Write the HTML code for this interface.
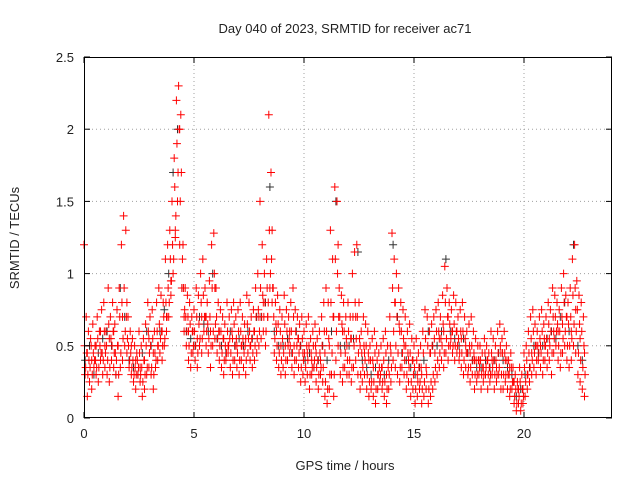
<!DOCTYPE html>
<html><head><meta charset="utf-8"><style>
body{margin:0;background:#fff}
svg text{font-family:"Liberation Sans",sans-serif;font-size:13px;fill:#222}
</style></head><body>
<svg id="chart" width="640" height="480">
<rect width="640" height="480" fill="#fff"/>
<g id="grid"></g><g id="marks"></g><g id="axes"></g>
<text x="345" y="33" text-anchor="middle">Day 040 of 2023, SRMTID for receiver ac71</text>
<text x="345" y="470" text-anchor="middle">GPS time / hours</text>
<text transform="translate(19,238) rotate(-90)" text-anchor="middle">SRMTID / TECUs</text>
</svg>
<script>
const xTicks=[0,5,10,15,20];
const yTicks=[0,0.5,1,1.5,2,2.5];
const yTickLabels=["0","0.5","1","1.5","2","2.5"];
const redHi=[1.2,0.7,0.6,0.55,0.65,0.5,0.7,0.6,0.75,0.8,
0.6,0.9,0.7,0.8,0.65,0.75,0.9,1.2,1.4,1.3,
0.7,0.6,0.55,0.5,0.45,0.6,0.5,0.55,0.65,0.8,
0.7,0.75,0.6,0.8,0.9,0.85,0.8,1.1,1.2,1.3,
1.5,1.8,2.2,2.3,2.1,1.2,0.9,0.85,0.8,0.7,
0.75,0.9,0.85,1.0,1.1,0.9,0.8,0.95,1.2,1.28,
0.9,0.8,0.75,0.7,0.65,0.8,0.7,0.75,0.8,0.7,
0.75,0.8,0.7,0.65,0.85,0.8,0.7,0.75,0.9,1.0,
1.5,1.2,1.0,1.1,2.1,1.7,0.9,0.8,0.85,0.75,
0.7,0.85,0.75,0.7,0.8,0.9,0.75,0.7,0.65,0.7,
0.6,0.65,0.7,0.55,0.6,0.65,0.55,0.6,0.7,0.8,
0.9,0.8,1.3,1.1,1.6,1.5,0.9,0.85,0.8,0.7,
0.8,0.7,1.0,1.15,1.2,0.8,0.6,0.7,0.65,0.6,
0.5,0.55,0.6,0.5,0.45,0.5,0.55,0.6,0.5,0.7,
1.28,1.1,1.0,0.9,0.8,0.75,0.7,0.6,0.65,0.55,
0.5,0.55,0.45,0.5,0.6,0.75,0.7,0.6,0.65,0.7,
0.75,0.8,0.7,0.85,1.05,0.9,0.8,0.75,0.85,0.8,
0.7,0.75,0.8,0.7,0.6,0.65,0.7,0.6,0.55,0.5,
0.5,0.45,0.55,0.5,0.45,0.6,0.55,0.5,0.6,0.65,
0.55,0.6,0.5,0.4,0.45,0.35,0.3,0.25,0.35,0.3,
0.45,0.5,0.6,0.7,0.75,0.65,0.6,0.7,0.75,0.65,
0.7,0.8,0.75,0.9,0.85,0.8,0.75,0.9,1.0,0.85,
0.8,0.9,1.1,1.2,0.95,0.85,0.8,0.7];
const redLo=[0.3,0.15,0.25,0.2,0.35,0.3,0.25,0.4,0.3,0.35,
0.3,0.25,0.4,0.35,0.3,0.15,0.35,0.4,0.5,0.45,
0.35,0.3,0.25,0.2,0.3,0.25,0.15,0.2,0.3,0.35,
0.3,0.2,0.35,0.4,0.45,0.4,0.5,0.6,0.7,0.85,
1.0,1.3,1.5,1.2,0.9,0.6,0.5,0.4,0.35,0.45,
0.4,0.35,0.5,0.45,0.6,0.5,0.45,0.35,0.5,0.55,
0.45,0.4,0.35,0.3,0.4,0.45,0.35,0.3,0.4,0.35,
0.3,0.4,0.35,0.3,0.45,0.4,0.35,0.4,0.45,0.5,
0.55,0.6,0.5,0.7,0.9,0.8,0.45,0.4,0.35,0.3,
0.35,0.3,0.4,0.45,0.35,0.3,0.4,0.35,0.25,0.3,
0.25,0.3,0.2,0.3,0.35,0.25,0.2,0.3,0.25,0.15,
0.1,0.2,0.3,0.15,0.4,0.5,0.3,0.25,0.35,0.3,
0.3,0.25,0.35,0.4,0.3,0.2,0.25,0.3,0.2,0.15,
0.2,0.15,0.1,0.2,0.25,0.2,0.15,0.1,0.2,0.25,
0.4,0.35,0.3,0.25,0.35,0.3,0.2,0.25,0.15,0.2,
0.1,0.15,0.2,0.1,0.15,0.2,0.1,0.15,0.2,0.25,
0.3,0.35,0.4,0.35,0.45,0.4,0.5,0.45,0.4,0.45,
0.4,0.35,0.3,0.35,0.3,0.25,0.3,0.2,0.25,0.3,
0.2,0.25,0.3,0.2,0.25,0.3,0.2,0.25,0.3,0.2,
0.2,0.25,0.2,0.15,0.2,0.1,0.05,0.1,0.05,0.1,
0.15,0.2,0.25,0.3,0.35,0.3,0.4,0.35,0.3,0.4,
0.35,0.4,0.3,0.45,0.5,0.4,0.35,0.45,0.5,0.4,
0.35,0.4,0.5,0.45,0.3,0.25,0.2,0.15];
const redQ1=[0.5,0.45,0.4,0.5,0.45,0.4,0.55,0.5,0.45,0.6,
0.5,0.65,0.55,0.6,0.45,0.5,0.7,0.8,0.9,0.7,
0.5,0.45,0.4,0.35,0.4,0.45,0.35,0.4,0.5,0.6,
0.5,0.55,0.45,0.6,0.65,0.6,0.7,0.8,0.9,1.1,
1.2,1.6,1.9,2.0,1.7,0.9,0.7,0.7,0.65,0.6,
0.6,0.7,0.65,0.8,0.85,0.7,0.65,0.7,0.9,1.0,
0.7,0.6,0.6,0.55,0.5,0.6,0.55,0.6,0.65,0.55,
0.6,0.6,0.55,0.5,0.65,0.6,0.55,0.6,0.7,0.75,
0.9,0.85,0.8,0.9,1.3,1.1,0.7,0.65,0.65,0.6,
0.55,0.65,0.6,0.55,0.6,0.7,0.6,0.55,0.5,0.55,
0.45,0.5,0.5,0.45,0.5,0.5,0.4,0.45,0.5,0.6,
0.6,0.55,0.8,0.7,1.1,1.0,0.7,0.65,0.6,0.55,
0.6,0.55,0.7,0.8,0.7,0.55,0.45,0.5,0.5,0.45,
0.4,0.4,0.45,0.4,0.35,0.35,0.4,0.45,0.35,0.5,
0.9,0.8,0.7,0.65,0.6,0.55,0.5,0.45,0.45,0.4,
0.35,0.4,0.35,0.35,0.45,0.55,0.5,0.45,0.5,0.55,
0.6,0.6,0.55,0.65,0.8,0.7,0.65,0.6,0.65,0.6,
0.55,0.6,0.6,0.55,0.45,0.5,0.5,0.45,0.4,0.4,
0.4,0.35,0.45,0.4,0.35,0.45,0.4,0.4,0.45,0.5,
0.45,0.45,0.4,0.3,0.35,0.25,0.2,0.2,0.25,0.2,
0.35,0.4,0.45,0.55,0.6,0.5,0.5,0.55,0.6,0.55,
0.55,0.65,0.6,0.7,0.7,0.65,0.6,0.7,0.8,0.7,
0.65,0.7,0.85,0.9,0.75,0.65,0.6,0.5];
const redQ2=[0.35,0.3,0.35,0.3,0.4,0.35,0.35,0.45,0.4,0.45,
0.4,0.35,0.5,0.45,0.4,0.3,0.45,0.55,0.6,0.55,
0.4,0.35,0.3,0.3,0.35,0.3,0.25,0.3,0.35,0.45,
0.35,0.3,0.4,0.5,0.55,0.5,0.55,0.7,0.8,0.95,
1.1,1.4,1.7,1.5,1.1,0.75,0.6,0.5,0.45,0.5,
0.5,0.45,0.55,0.55,0.7,0.6,0.55,0.5,0.6,0.65,
0.55,0.5,0.45,0.4,0.45,0.5,0.45,0.4,0.5,0.45,
0.4,0.5,0.45,0.4,0.55,0.5,0.45,0.5,0.55,0.6,
0.7,0.7,0.6,0.8,1.0,0.9,0.55,0.5,0.45,0.4,
0.45,0.4,0.5,0.5,0.45,0.4,0.5,0.45,0.35,0.4,
0.35,0.4,0.3,0.35,0.4,0.35,0.3,0.35,0.35,0.25,
0.2,0.3,0.45,0.3,0.6,0.7,0.45,0.35,0.45,0.4,
0.4,0.35,0.5,0.55,0.45,0.3,0.35,0.4,0.3,0.25,
0.25,0.25,0.2,0.3,0.3,0.25,0.25,0.2,0.3,0.35,
0.6,0.5,0.45,0.35,0.45,0.4,0.3,0.35,0.25,0.3,
0.2,0.25,0.25,0.2,0.25,0.3,0.2,0.25,0.3,0.35,
0.4,0.45,0.5,0.45,0.55,0.5,0.55,0.5,0.5,0.5,
0.45,0.45,0.4,0.45,0.35,0.35,0.4,0.3,0.3,0.35,
0.3,0.3,0.35,0.3,0.3,0.35,0.3,0.3,0.35,0.3,
0.3,0.3,0.3,0.2,0.25,0.15,0.1,0.15,0.1,0.15,
0.25,0.3,0.35,0.4,0.45,0.4,0.45,0.45,0.4,0.5,
0.45,0.5,0.45,0.55,0.6,0.5,0.45,0.55,0.6,0.5,
0.5,0.55,0.65,0.6,0.45,0.4,0.35,0.3];
const redMid=[0.45,0.4,0.5,0.6,0.5, 0.55,0.6,0.5,0.7,0.8, 0.5,0.4,0.35,0.4,0.55, 0.45,0.5,0.6,0.7,0.95,
1.25,2.0,0.7,0.6,0.6, 0.55,0.7,0.7,0.6,0.9, 0.6,0.55,0.5,0.55,0.5, 0.5,0.55,0.5,0.6,0.7,
0.8,0.7,1.3,0.6,0.5, 0.5,0.6,0.5,0.55,0.45, 0.45,0.4,0.45,0.4,0.45, 0.5,0.7,1.2,0.6,0.5,
0.55,0.7,0.5,0.45,0.4, 0.35,0.3,0.35,0.3,0.45, 0.8,0.6,0.5,0.4,0.4, 0.3,0.3,0.35,0.45,0.45,
0.55,0.6,0.7,0.6,0.6, 0.55,0.5,0.45,0.4,0.4, 0.35,0.4,0.4,0.35,0.45, 0.4,0.35,0.25,0.2,0.2,
0.3,0.45,0.5,0.5,0.5, 0.55,0.6,0.6,0.65,0.7, 0.6,0.75,0.55,0.45];
const blackVals=[0.4,0.5,0.3,0.45,0.55, 0.6,0.5,0.3,0.9,0.7, 0.4,0.35,0.3,0.45,0.6, 0.5,0.35,0.6,0.75,1.0,
1.7,2.0,0.9,0.6,0.55, 0.5,0.7,0.65,0.6,1.0, 0.55,0.5,0.45,0.6,0.5, 0.55,0.5,0.6,0.55,0.7,
0.7,0.8,1.6,0.6,0.5, 0.5,0.55,0.45,0.6,0.5, 0.4,0.45,0.35,0.4,0.5, 0.4,0.6,1.5,0.5,0.5,
0.5,0.55,1.15,0.4,0.35, 0.3,0.35,0.25,0.3,0.4, 1.2,0.7,0.45,0.4,0.35, 0.3,0.35,0.4,0.6,0.5,
0.5,0.6,1.1,0.6,0.55, 0.5,0.55,0.45,0.4,0.35, 0.35,0.4,0.35,0.4,0.45, 0.4,0.35,0.3,0.15,0.2,
0.3,0.35,0.5,0.45,0.5, 0.55,0.6,0.55,0.7,0.8, 0.6,1.2,0.5,0.4];
const X0=84,X1=612,Y0=418,Y1=57;
const xs=h=>X0+(h/24)*(X1-X0);
const ys=v=>Y0-(v/2.5)*(Y0-Y1);
const NS="http://www.w3.org/2000/svg";
function mk(tag,attrs,parent){const e=document.createElementNS(NS,tag);for(const k in attrs)e.setAttribute(k,attrs[k]);parent.appendChild(e);return e;}
const grid=document.getElementById('grid'),axes=document.getElementById('axes'),marks=document.getElementById('marks');
xTicks.forEach(t=>{const x=xs(t);
 if(t>0){const g=mk('line',{x1:x,x2:x,y1:Y0,y2:Y1,stroke:'#a0a0a0','stroke-dasharray':'1,3'},grid);
 
 }
 mk('line',{x1:x,x2:x,y1:Y0,y2:Y0-6,stroke:'#000'},axes);
 mk('line',{x1:x,x2:x,y1:Y1,y2:Y1+6,stroke:'#000'},axes);
 const tx=mk('text',{x:x,y:Y0+20,'text-anchor':'middle'},axes);tx.textContent=t;
 
 
});
yTicks.forEach((t,i)=>{const y=ys(t);
 if(t>0&&t<2.5){const g=mk('line',{x1:X0,x2:X1,y1:y,y2:y,stroke:'#a0a0a0','stroke-dasharray':'1,3'},grid);
 
 }
 mk('line',{x1:X0,x2:X0+6,y1:y,y2:y,stroke:'#000'},axes);
 mk('line',{x1:X1,x2:X1-6,y1:y,y2:y,stroke:'#000'},axes);
 const tx=mk('text',{x:X0-10,y:y+5,'text-anchor':'end'},axes);tx.textContent=yTickLabels[i];
 
 
});
const frame=mk('rect',{x:X0+0.5,y:Y1+0.5,width:X1-X0-1,height:Y0-Y1-1,fill:'none',stroke:'#000'},axes);


function plus(h,v,color,name){const x=xs(h),y=ys(v);
 const p=mk('path',{d:`M${x-4},${y}H${x+4}M${x},${y-4}V${y+4}`,stroke:color,'stroke-width':1,fill:'none'},marks);
 
 }
blackVals.forEach((v,i)=>plus(0.05+i*0.2,v,'#333','black-point'));
redHi.forEach((v,i)=>plus(i*0.1,v,'#ff0000','red-point'));
redLo.forEach((v,i)=>plus(i*0.1+0.05,v,'#ff0000','red-point'));
redQ1.forEach((v,i)=>plus(i*0.1+0.025,v,'#ff0000','red-point'));
redQ2.forEach((v,i)=>plus(i*0.1+0.075,v,'#ff0000','red-point'));
redMid.forEach((v,i)=>plus(0.15+i*0.2,v,'#ff0000','red-point'));
</script>
</body></html>
